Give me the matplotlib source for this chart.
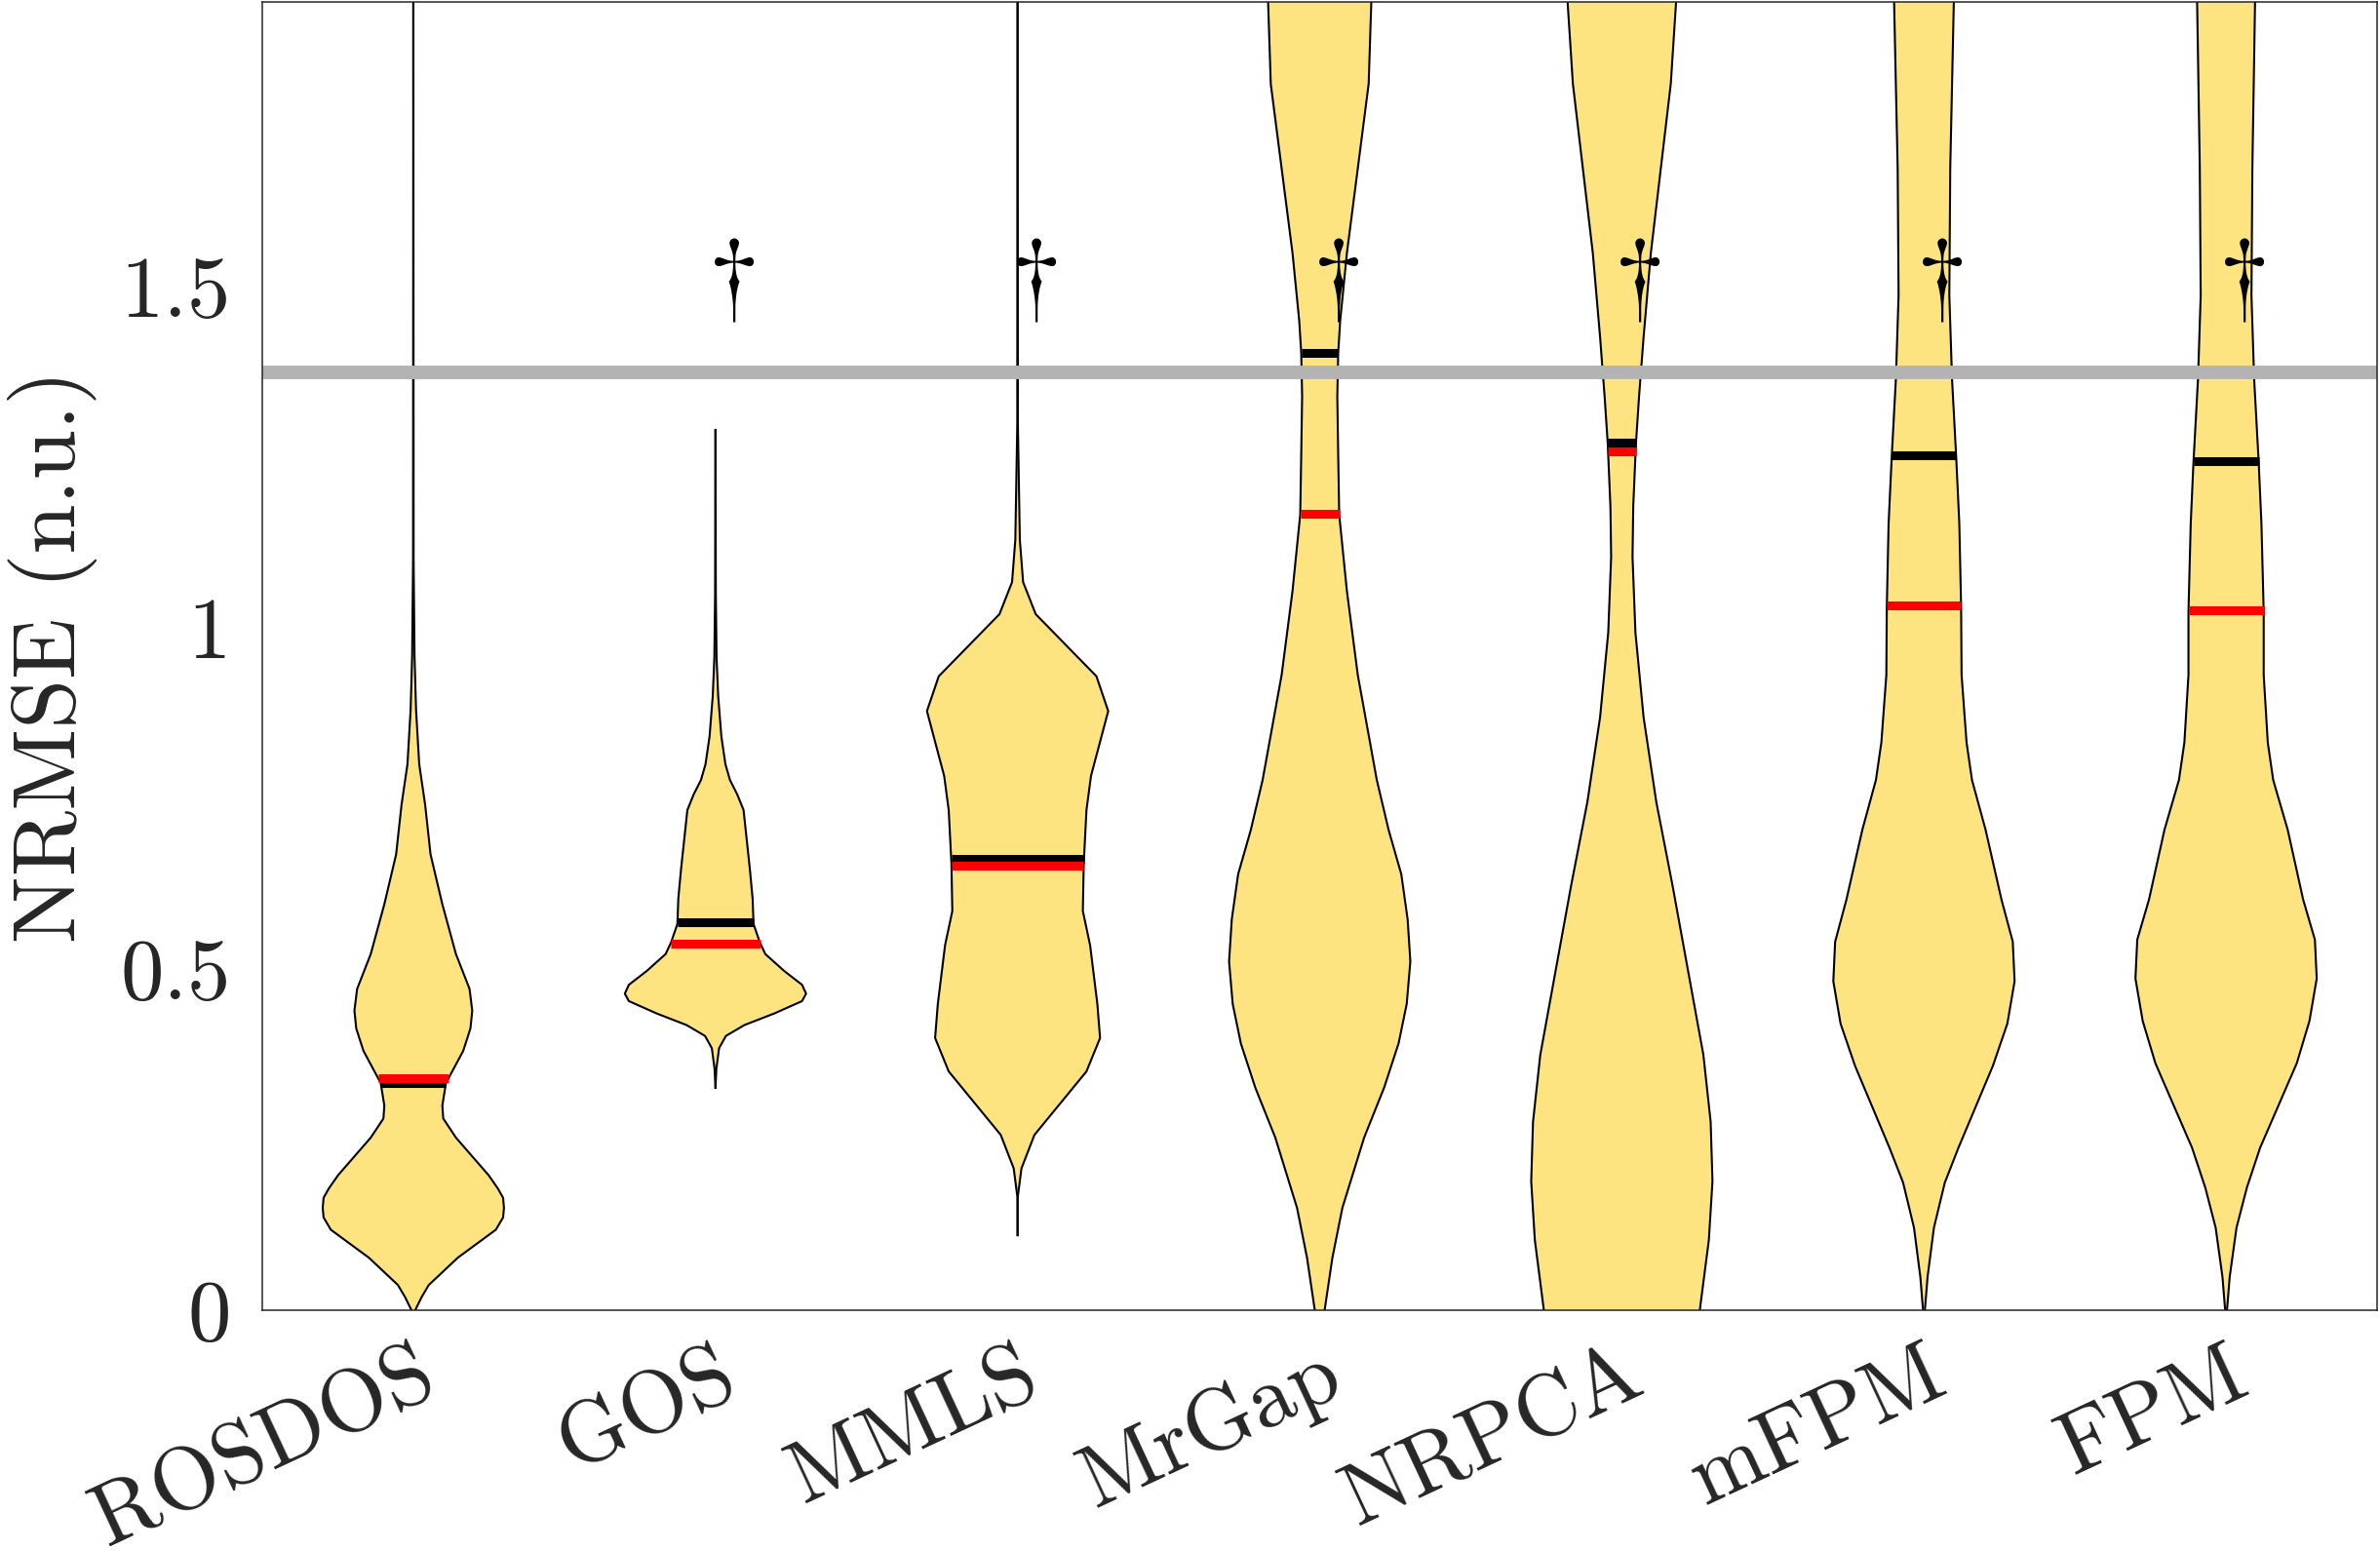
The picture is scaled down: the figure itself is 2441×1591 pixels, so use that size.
import numpy as np
import matplotlib.pyplot as plt

plt.rcParams['font.family'] = 'serif'
plt.rcParams['font.serif'] = ['cmr10']
plt.rcParams['mathtext.fontset'] = 'cm'
plt.rcParams['axes.formatter.use_mathtext'] = True

methods = ['ROSDOS', 'GOS', 'MMLS', 'MrGap', 'NRPCA', 'mFPM', 'FPM']

# violin outlines: NRMSE levels and relative half-widths (1 = widest)
rosdos_y = [0.0, 0.019, 0.037, 0.077, 0.118, 0.136, 0.15, 0.165, 0.179, 0.198, 0.253, 0.281, 0.30,
            0.333, 0.38, 0.413, 0.439, 0.471, 0.522, 0.595, 0.668, 0.741, 0.80, 0.88, 0.96, 1.1, 2.0]
rosdos_w = [0.02, 0.09, 0.17, 0.49, 0.91, 0.99, 1.0, 0.99, 0.93, 0.83, 0.47, 0.33, 0.32,
            0.36, 0.55, 0.63, 0.65, 0.62, 0.47, 0.32, 0.19, 0.13, 0.065, 0.03, 0.013, 0.003, 0.0]

gos_y = [0.326, 0.354, 0.384, 0.402, 0.418, 0.435, 0.453, 0.464, 0.477, 0.497, 0.522, 0.539,
         0.566, 0.603, 0.646, 0.733, 0.756, 0.777, 0.80, 0.841, 0.90, 0.957, 1.05, 1.29]
gos_w = [0.0, 0.01, 0.04, 0.115, 0.32, 0.65, 0.955, 1.0, 0.955, 0.76, 0.55, 0.49,
         0.42, 0.41, 0.38, 0.31, 0.24, 0.16, 0.11, 0.065, 0.03, 0.012, 0.004, 0.0]

mmls_y = [0.11, 0.164, 0.208, 0.257, 0.35, 0.399, 0.449, 0.535, 0.585, 0.655, 0.733, 0.783,
          0.878, 0.929, 1.02, 1.067, 1.129, 1.3, 2.0]
mmls_w = [0.0, 0.0, 0.043, 0.186, 0.76, 0.91, 0.88, 0.80, 0.72, 0.73, 0.76, 0.81,
          1.0, 0.87, 0.20, 0.061, 0.025, 0.003, 0.0]

mrgap_y = [0.0, 0.077, 0.15, 0.253, 0.326, 0.391, 0.449, 0.511, 0.573, 0.639, 0.704, 0.777,
           0.931, 1.054, 1.166, 1.253, 1.339, 1.403, 1.45, 1.549, 1.673, 1.797, 1.92, 2.0]
mrgap_w = [0.054, 0.14, 0.25, 0.49, 0.71, 0.87, 0.96, 1.0, 0.97, 0.90, 0.76, 0.63,
           0.42, 0.30, 0.215, 0.204, 0.194, 0.204, 0.226, 0.30, 0.42, 0.54, 0.57, 0.58]

nrpca_y = [0.0, 0.103, 0.189, 0.276, 0.374, 0.498, 0.622, 0.745, 0.869, 0.993, 1.104, 1.178,
           1.271, 1.339, 1.426, 1.549, 1.673, 1.797, 1.92, 2.0]
nrpca_w = [0.86, 0.96, 1.0, 0.98, 0.90, 0.73, 0.56, 0.38, 0.24, 0.15, 0.118, 0.126,
           0.156, 0.19, 0.24, 0.32, 0.43, 0.54, 0.60, 0.61]

mfpm_y = [0.0, 0.049, 0.121, 0.187, 0.238, 0.358, 0.42, 0.482, 0.54, 0.602, 0.704, 0.777,
          0.832, 0.931, 1.03, 1.153, 1.252, 1.364, 1.487, 1.673, 1.92, 2.0]
mfpm_w = [0.01, 0.04, 0.11, 0.23, 0.38, 0.76, 0.92, 1.0, 0.98, 0.855, 0.68, 0.53,
          0.47, 0.415, 0.41, 0.39, 0.355, 0.31, 0.28, 0.29, 0.33, 0.33]

fpm_y = [0.0, 0.049, 0.121, 0.18, 0.238, 0.362, 0.424, 0.486, 0.543, 0.602, 0.704, 0.777,
         0.832, 0.931, 1.024, 1.153, 1.242, 1.364, 1.487, 1.673, 1.92, 2.0]
fpm_w = [0.01, 0.04, 0.115, 0.23, 0.375, 0.78, 0.92, 1.0, 0.98, 0.85, 0.68, 0.52,
         0.46, 0.415, 0.415, 0.39, 0.36, 0.31, 0.28, 0.29, 0.32, 0.32]

medians = [0.333, 0.568, 0.661, 1.403, 1.272, 1.253, 1.244]
means = [0.340, 0.537, 0.652, 1.167, 1.258, 1.033, 1.026]
significant = [False, True, True, True, True, True, True]
reference_level = 1.374

profiles = [(rosdos_y, rosdos_w), (gos_y, gos_w), (mmls_y, mmls_w), (mrgap_y, mrgap_w),
            (nrpca_y, nrpca_w), (mfpm_y, mfpm_w), (fpm_y, fpm_w)]

HALF = 0.3
FILL = '#FDE481'
AXCOL = '#262626'

fig = plt.figure(figsize=(24.41, 15.91), dpi=100)
ax = fig.add_axes([0.1102, 0.1552, 0.8886, 0.8435])

for i, (ys, ws) in enumerate(profiles):
    x0 = i + 1
    ys = np.asarray(ys)
    hw = np.asarray(ws) * HALF
    ax.fill_betweenx(ys, x0 - hw, x0 + hw, facecolor=FILL, edgecolor='none', zorder=2)
    ax.plot(x0 - hw, ys, color='k', lw=1.5, zorder=3)
    ax.plot(x0 + hw, ys, color='k', lw=1.5, zorder=3)
    h = np.interp(medians[i], ys, hw)
    ax.plot([x0 - h, x0 + h], [medians[i]] * 2, color='k', lw=6.5,
            solid_capstyle='butt', zorder=4)
    h = np.interp(means[i], ys, hw)
    ax.plot([x0 - h, x0 + h], [means[i]] * 2, color='#ff0000', lw=6.5,
            solid_capstyle='butt', zorder=4)
    if significant[i]:
        ax.text(x0 + 0.052, 1.471, r'$\dagger$', fontsize=75, ha='center',
                va='baseline', zorder=6)

ax.axhline(reference_level, color='#b3b3b3', lw=10, zorder=5)

ax.set_xlim(0.5, 7.5)
ax.set_ylim(0, 1.917)
ax.set_yticks([0, 0.5, 1, 1.5])
ax.set_yticklabels(['0', '0.5', '1', '1.5'])
ax.set_xticks(range(1, 8))
ax.set_xticklabels(methods, rotation=25, ha='right', rotation_mode='anchor')
ax.tick_params(axis='x', length=0, labelsize=65, labelcolor=AXCOL, pad=18)
ax.tick_params(axis='y', length=0, labelsize=64, labelcolor=AXCOL, pad=23)
for sp in ax.spines.values():
    sp.set_color(AXCOL)
    sp.set_linewidth(1.1)
    sp.set_zorder(7)

ax.set_ylabel('NRMSE (n.u.)', fontsize=66, color=AXCOL)
ax.yaxis.set_label_coords(-0.078, 0.5)

fig.savefig('out.png', dpi=100)
